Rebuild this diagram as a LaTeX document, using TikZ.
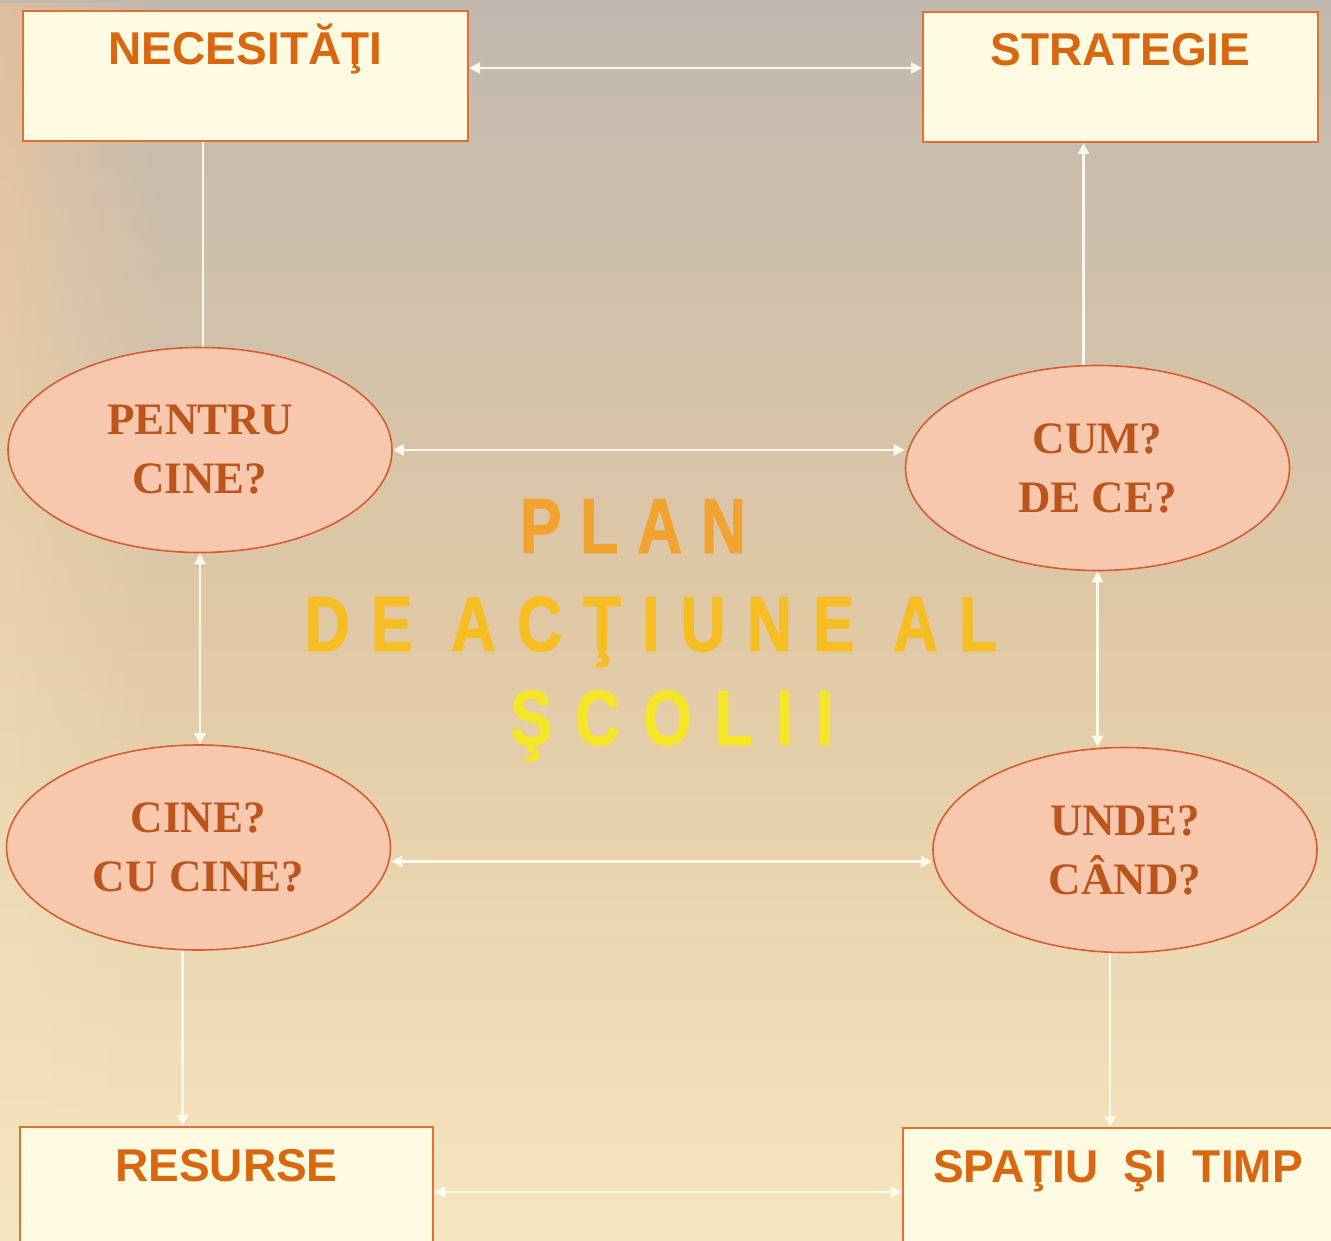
\documentclass[tikz,border=0pt]{standalone}
\usepackage{fontspec}
\newfontfamily\boxfont{Liberation Sans}
\newfontfamily\bubblefont{Liberation Serif}
\newfontfamily\titlefont{Liberation Sans}[FakeStretch=0.8, FakeBold=1.2]
\usepackage{tikz}
\usetikzlibrary{shapes.geometric,arrows.meta,fadings}
\definecolor{bgtop}{HTML}{C1B8B0}
\definecolor{bgmid}{HTML}{E1C9A5}
\definecolor{bgbot}{HTML}{F6E6C0}
\definecolor{bgleft}{HTML}{DFBF9E}
\definecolor{boxfill}{HTML}{FFFAE2}
\definecolor{boxline}{HTML}{E2712E}
\definecolor{boxtext}{HTML}{D9670F}
\definecolor{bubblefill}{HTML}{F7C8AE}
\definecolor{bubbleline}{HTML}{D75E2C}
\definecolor{bubbletext}{HTML}{BC551C}
\definecolor{linkwhite}{HTML}{FFF9EC}
\definecolor{titleA}{HTML}{F2A22E}
\definecolor{titleB}{HTML}{F6BE22}
\definecolor{titleC}{HTML}{F6E62A}
\tikzset{>={Triangle[length=11pt,width=11pt]}}
\tikzstyle{block} = [draw=boxline, line width=2pt, fill=boxfill, rectangle, inner sep=0pt, inner ysep=21pt, text height=33pt, text depth=55pt, text=boxtext, font=\boxfont\bfseries\fontsize{46}{46}\selectfont]
\tikzstyle{bubble} = [draw=bubbleline, line width=1.6pt, fill=bubblefill, ellipse, inner sep=0pt, minimum width=384pt, minimum height=205pt, text=bubbletext, align=center, font=\bubblefont\bfseries\fontsize{45}{59}\selectfont]
\tikzstyle{link} = [draw=linkwhite, line width=2.5pt]
\tikzstyle{title} = [anchor=base, inner sep=0pt, font=\titlefont\bfseries\fontsize{78}{78}\selectfont]

\begin{document}
\begin{tikzpicture}[x=1pt, y=-1pt]
		\useasboundingbox (0,0) rectangle (1331,1241);
		\fill [top color=bgtop, bottom color=bgmid] (0,0) rectangle (1331,641);
		\fill [top color=bgmid, bottom color=bgbot] (0,640) rectangle (1331,1241);
		\shade [top color=bgleft, bottom color=bgbot, path fading=east] (0,0) rectangle (160,1241);

		\node [block, minimum width=445pt] (nec) at (245.5,76) {NECESITĂŢI};
		\node [block, minimum width=395pt] (str) at (1120.5,77) {STRATEGIE};
		\node [block, minimum width=413pt] (res) at (226.5,1192) {RESURSE};
		\node [block, minimum width=430pt] (spa) at (1118,1193) {SPAŢIU\ \ ŞI\ \ TIMP};

		\node [bubble] (pen) at (200,450) {PENTRU\\CINE?};
		\node [bubble] (cum) at (1097.5,468) {CUM?\\DE CE?};
		\node [bubble] (cin) at (198.5,847.5) {CINE?\\CU CINE?};
		\node [bubble] (und) at (1125,850) {UNDE?\\CÂND?};

		\node [title, text=titleA] (plan) at (633,553) {\addfontfeatures{LetterSpace=24}PLAN};
		\node [title, text=titleB] (act) at (651,651) {\addfontfeatures{LetterSpace=27}DE ACŢIUNE AL};
		\node [title, text=titleC] (scoala) at (672,745) {\addfontfeatures{LetterSpace=29.5}ŞCOLII};

		\draw [link, <->] ([yshift=8pt]nec.east) -- ([yshift=8pt]nec.east -| str.west);
		\draw [link] ([xshift=3pt]pen.north) -- ([xshift=3pt]pen.north |- nec.south);
		\draw [link, ->] ([xshift=-14pt]cum.north) -- ([xshift=-14pt]cum.north |- str.south);
		\draw [link, <->] (pen.east) -- (pen.east -| cum.west);
		\draw [link, <->] (pen.south) -- (pen.south |- cin.north);
		\draw [link, <->] (cum.south) -- (cum.south |- und.north);
		\draw [link, <->] ([yshift=-14pt]cin.east) -- ([yshift=-14pt]cin.east -| und.west);
		\draw [link, ->] ([xshift=-16pt]cin.south) -- ([xshift=-16pt]cin.south |- res.north);
		\draw [link, ->] ([xshift=-15pt]und.south) -- ([xshift=-15pt]und.south |- spa.north);
		\draw [link, <->] (res.east) -- (res.east -| spa.west);
	\end{tikzpicture}
\end{document}
